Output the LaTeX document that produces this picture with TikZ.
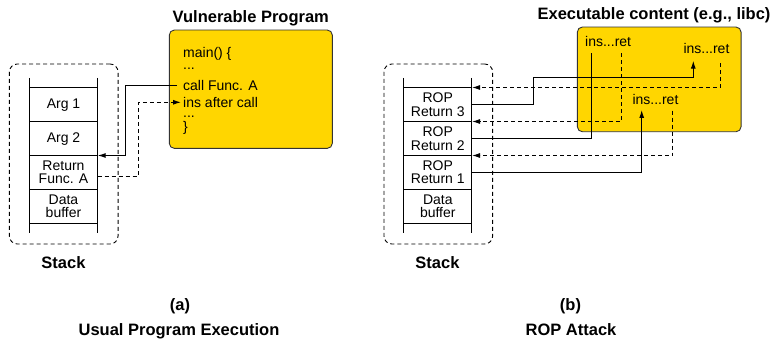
\documentclass[tikz,border=0pt]{standalone}
\usepackage{fontspec}
\setmainfont{Liberation Sans}
\usetikzlibrary{arrows.meta,calc}
\definecolor{boxyellow}{HTML}{FFD600}
\definecolor{boxedge}{HTML}{333333}
\begin{document}
\begin{tikzpicture}[x=1pt,y=-1pt,
  txt/.style={font=\fontsize{14}{13.3}\selectfont, inner sep=0pt},
  cell/.style={txt, minimum width=68pt, align=center},
  title/.style={font=\bfseries\fontsize{16.5}{18}\selectfont, inner sep=0pt},
  stackbox/.style={draw, line width=0.9pt, dash pattern=on 4pt off 3pt, rounded corners=8pt, minimum width=108.7pt, minimum height=180pt, inner sep=0pt},
  progbox/.style={draw=boxedge, line width=0.9pt, fill=boxyellow, rounded corners=5pt, inner sep=0pt},
  ladder/.style={line width=1pt},
  conn/.style={line width=1pt},
  dconn/.style={line width=1pt, dash pattern=on 4pt off 3pt},
  tip/.style={-{Latex[length=8pt,width=5pt]}},
]
\useasboundingbox (0,0) rectangle (775,339);

% ---------------- (a) ----------------
\node[stackbox] (sboxA) at (63.7,154) {};
\node[progbox, minimum width=163pt, minimum height=118.3pt] (prog) at (250.8,89.2) {};
\node[title, anchor=base] (progT) at (250.8,22.7) {Vulnerable Program};

% stack ladder (a)
\draw[ladder] (29.5,78) -- (29.5,233);
\draw[ladder] (97.5,78) -- (97.5,233);
\foreach \yy in {87.7,121.7,155.7,189.3,223.3}
  \draw[ladder] (29.5,\yy) -- (97.5,\yy);
\node[cell, minimum height=34pt] (a1) at (63.5,104.7) {Arg 1};
\node[cell, minimum height=34pt] (a2) at (63.5,138.7) {Arg 2};
\node[cell, minimum height=33.6pt] (ret) at (63.5,172.5) {Return\\Func. A};
\node[cell, minimum height=34pt] (dbA) at (63.5,206.3) {Data\\buffer};
\node[title, anchor=base] (stackA) at (63.5,268.3) {Stack};

% program text
\node[txt, anchor=base west] (l1) at (183,57.3) {main() \{};
\node[txt, anchor=base west] (l2) at (183,70) {...};
\node[txt, anchor=base west] (call) at (183,91) {call Func. A};
\node[txt, anchor=base west] (ins) at (183,107.3) {ins after call};
\node[txt, anchor=base west] (l5) at (183,117.5) {...};
\node[txt, anchor=base west] (l6) at (183,132) {\}};

% connectors (a)
\draw[conn, tip] ([xshift=-6pt]call.west) -- ++(-52,0) |- (ret.north east);
\draw[dconn, tip] ([yshift=-3.5pt]ret.east) -- ++(40.8,0) |- ([xshift=-2pt]ins.west);

\node[title, anchor=base] (capA) at (180,310.7) {(a)};
\node[title, anchor=base] (nameA) at (179,335) {Usual Program Execution};

% ---------------- (b) ----------------
\node[stackbox] (sboxB) at (438.3,154) {};
\node[progbox, minimum width=163.7pt, minimum height=104.7pt] (exec) at (659.2,79.4) {};
\node[title, anchor=base] (execT) at (654,20) {Executable content (e.g., libc)};

% stack ladder (b)
\draw[ladder] (403.8,78) -- (403.8,233);
\draw[ladder] (471.8,78) -- (471.8,233);
\foreach \yy in {87.7,121.7,155.7,189.3,223.3}
  \draw[ladder] (403.8,\yy) -- (471.8,\yy);
\node[cell, minimum height=34pt] (r3) at (437.8,104.7) {ROP\\Return 3};
\node[cell, minimum height=34pt] (r2) at (437.8,138.7) {ROP\\Return 2};
\node[cell, minimum height=33.6pt] (r1) at (437.8,172.5) {ROP\\Return 1};
\node[cell, minimum height=34pt] (dbB) at (437.8,206.3) {Data\\buffer};
\node[title, anchor=base] (stackB) at (437.5,268.3) {Stack};

% gadgets
\node[txt, anchor=base west] (g1) at (585,46.7) {ins...ret};
\node[txt, anchor=base west] (g2) at (683.3,54) {ins...ret};
\node[txt, anchor=base west] (g3) at (632.3,104.3) {ins...ret};
\coordinate (g1in) at (591,53.3);
\coordinate (g1out) at (621.7,53.3);
\coordinate (g2in) at (693.3,60.7);
\coordinate (g2out) at (720.7,63.3);
\coordinate (g3in) at (641.7,110);
\coordinate (g3out) at (672.7,110.7);
\coordinate (bend3) at (533.3,77.7);

% connectors (b)
\draw[conn, tip] (r3.east) -| (bend3) -| (g2in);
\draw[dconn, tip] (g2out) |- (r3.north east);
\draw[conn] (r2.east) -| (g1in);
\draw[dconn, tip] (g1out) |- (r2.north east);
\draw[conn, tip] (r1.east) -| (g3in);
\draw[dconn, tip] (g3out) |- (r1.north east);

\node[title, anchor=base] (capB) at (570.5,310.7) {(b)};
\node[title, anchor=base] (nameB) at (571,335) {ROP Attack};
\end{tikzpicture}
\end{document}
